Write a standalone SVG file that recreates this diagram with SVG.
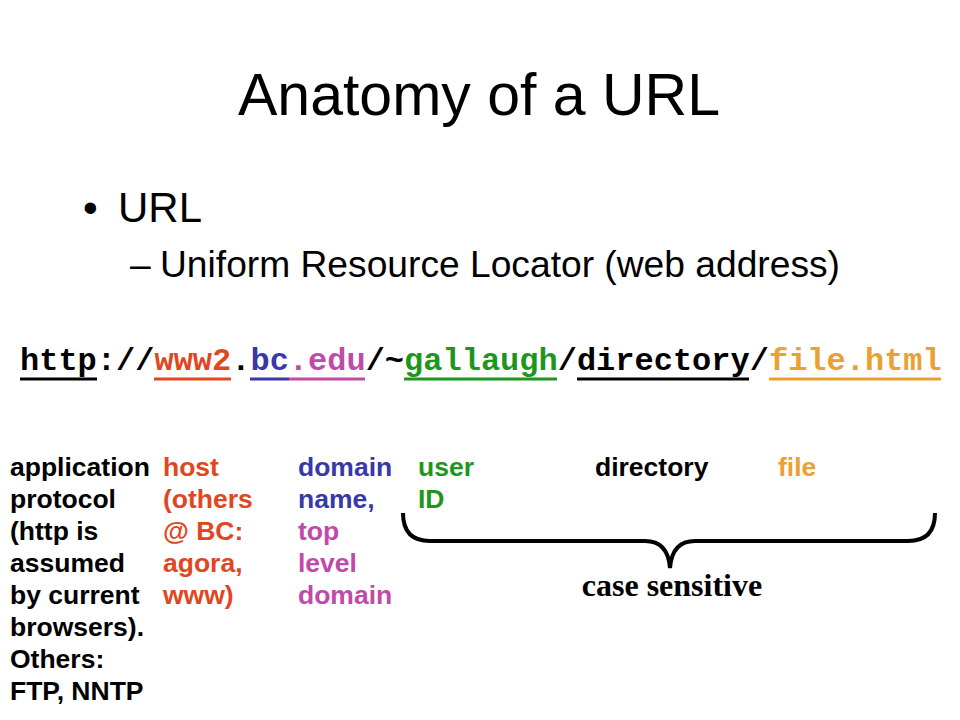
<svg xmlns="http://www.w3.org/2000/svg" width="960" height="720" viewBox="0 0 960 720">
<style>
.sans{font-family:"Liberation Sans",Arial,sans-serif;fill:#000}
.mono{font-family:"Liberation Mono","Courier New",monospace;font-weight:bold;font-size:32px}
.lbl{font-family:"Liberation Sans",Arial,sans-serif;font-weight:bold;font-size:26.5px}
.ul{stroke-width:3}
.k{fill:#000}.r{fill:#e2461e}.b{fill:#3838a8}.m{fill:#c04aa8}.g{fill:#1e961e}.o{fill:#eba030}
</style>
<rect width="960" height="720" fill="#fff"/>
<g id="title">
<text class="sans" x="479" y="115" font-size="59" text-anchor="middle">Anatomy of a URL</text>
</g>
<g id="bullets">
<text class="sans" x="83" y="222" font-size="42">•</text>
<text class="sans" x="118" y="222" font-size="42">URL</text>
<text class="sans" x="130" y="277" font-size="37.2">–</text>
<text class="sans" x="160" y="277" font-size="37.2">Uniform Resource Locator (web address)</text>
</g>
<g id="url">
<text class="mono" x="20" y="370"><tspan class="k">http://</tspan><tspan class="r">www2</tspan><tspan class="k">.</tspan><tspan class="b">bc</tspan><tspan class="m">.edu</tspan><tspan class="k">/~</tspan><tspan class="g">gallaugh</tspan><tspan class="k">/directory/</tspan><tspan class="o">file.html</tspan></text>
<line class="ul" x1="20" y1="379" x2="97" y2="379" stroke="#000"/>
<line class="ul" x1="154" y1="379" x2="231" y2="379" stroke="#e2461e"/>
<line class="ul" x1="250" y1="379" x2="289" y2="379" stroke="#3838a8"/>
<line class="ul" x1="289" y1="379" x2="365" y2="379" stroke="#c04aa8"/>
<line class="ul" x1="404" y1="379" x2="557" y2="379" stroke="#1e961e"/>
<line class="ul" x1="577" y1="379" x2="749" y2="379" stroke="#000"/>
<line class="ul" x1="769" y1="379" x2="941" y2="379" stroke="#eba030"/>
</g>
<g id="protocol">
<text class="lbl k"><tspan x="10" y="476">application</tspan><tspan x="10" y="508">protocol</tspan><tspan x="10" y="540">(http is</tspan><tspan x="10" y="572">assumed</tspan><tspan x="10" y="604">by current</tspan><tspan x="10" y="636">browsers).</tspan><tspan x="10" y="668">Others:</tspan><tspan x="10" y="700">FTP, NNTP</tspan></text>
</g>
<g id="host">
<text class="lbl r"><tspan x="163" y="476">host</tspan><tspan x="163" y="508">(others</tspan><tspan x="163" y="540">@ BC:</tspan><tspan x="163" y="572">agora,</tspan><tspan x="163" y="604">www)</tspan></text>
</g>
<g id="domain">
<text class="lbl"><tspan class="b" x="298" y="476">domain</tspan><tspan class="b" x="298" y="508">name,</tspan><tspan class="m" x="298" y="540">top</tspan><tspan class="m" x="298" y="572">level</tspan><tspan class="m" x="298" y="604">domain</tspan></text>
</g>
<g id="user">
<text class="lbl g"><tspan x="418" y="476">user</tspan><tspan x="418" y="508">ID</tspan></text>
</g>
<g id="directory">
<text class="lbl k" x="595" y="476">directory</text>
</g>
<g id="file">
<text class="lbl o" x="778" y="476">file</text>
</g>
<g id="connectors">
<path d="M403,513 Q403,541 430,541 L645,541 Q668,541 670,568 Q672,541 695,541 L908,541 Q935,541 935,513" fill="none" stroke="#000" stroke-width="4"/>
</g>
<g id="case">
<text x="672" y="596" font-family="'Liberation Serif','Times New Roman',serif" font-weight="bold" font-size="32" text-anchor="middle">case sensitive</text>
</g>
</svg>
